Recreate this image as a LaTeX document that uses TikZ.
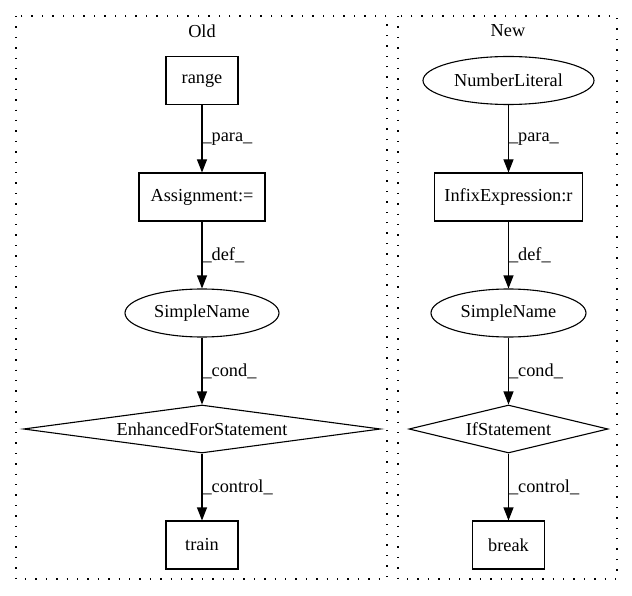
\documentclass[tikz,border=0pt]{standalone}
\usepackage{fontspec}
\setmainfont{Liberation Serif}
\usetikzlibrary{shapes.geometric,arrows.meta}
\tikzset{
  fnt/.style={font=\fontsize{18.3pt}{20pt}\selectfont},
  box/.style={draw, line width=1.1pt, rectangle, inner sep=0pt, minimum height=48pt, fnt},
  ell/.style={draw, line width=1.1pt, ellipse, inner sep=0pt, minimum height=48pt, fnt},
  dia/.style={draw, line width=1.1pt, diamond, aspect=7.4, inner sep=0pt, minimum height=48pt, fnt},
  cluster/.style={draw, line width=1.4pt, dash pattern=on 1.4pt off 9pt},
  edge/.style={-{Triangle[length=13pt,width=10pt]}, line width=1.1pt},
  elab/.style={fnt, anchor=west, inner sep=0pt},
  title/.style={fnt}
}
\begin{document}
\begin{tikzpicture}[x=1pt,y=-1pt]
\useasboundingbox (0,0) rectangle (632,596);
\draw[cluster] (16,16) rectangle (387,579);
\draw[cluster] (398,16) rectangle (617,579);
\node[title] (told) at (202,31) {Old};
\node[title] (tnew) at (508,31) {New};
% Old
\node[box, minimum width=72pt] (range) at (202,80.5) {range};
\node[box, minimum width=126pt] (assign) at (202,197) {Assignment:=};
\node[ell, minimum width=154pt] (sn1) at (202,313) {SimpleName};
\node[dia, minimum width=357pt] (efs) at (202,429) {EnhancedForStatement};
\node[box, minimum width=72pt] (train) at (202,545) {train};
\draw[edge] (range) -- node[elab, pos=0.5] {\_para\_} (assign);
\draw[edge] (assign) -- node[elab, pos=0.5] {\_def\_} (sn1);
\draw[edge] (sn1) -- node[elab, pos=0.5] {\_cond\_} (efs);
\draw[edge] (efs) -- node[elab, pos=0.5] {\_control\_} (train);
% New
\node[ell, minimum width=171pt] (num) at (508.5,80.5) {NumberLiteral};
\node[box, minimum width=148pt] (infix) at (508.5,197) {InfixExpression:r};
\node[ell, minimum width=155pt] (sn2) at (508.5,313) {SimpleName};
\node[dia, minimum width=199pt, aspect=4.1] (ifs) at (508.5,429) {IfStatement};
\node[box, minimum width=72pt] (brk) at (508.5,545) {break};
\draw[edge] (num) -- node[elab, pos=0.5] {\_para\_} (infix);
\draw[edge] (infix) -- node[elab, pos=0.5] {\_def\_} (sn2);
\draw[edge] (sn2) -- node[elab, pos=0.5] {\_cond\_} (ifs);
\draw[edge] (ifs) -- node[elab, pos=0.5] {\_control\_} (brk);
\end{tikzpicture}
\end{document}
